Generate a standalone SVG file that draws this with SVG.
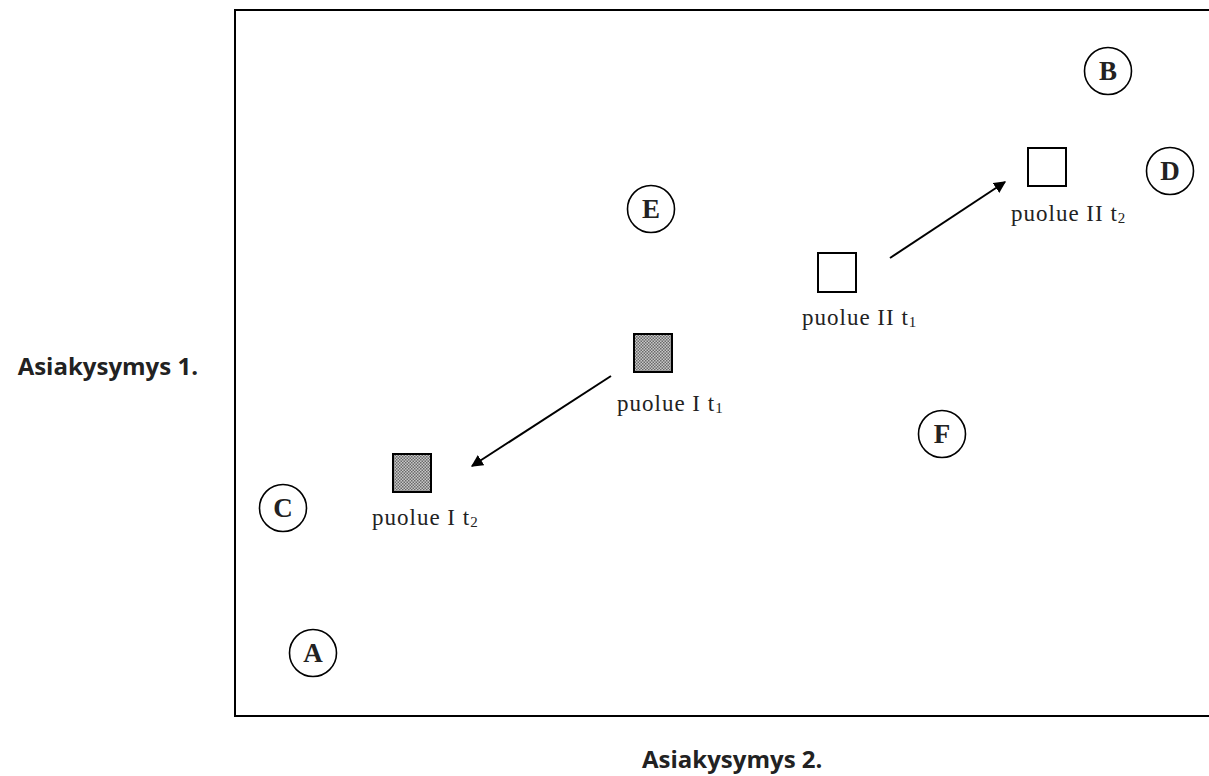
<svg xmlns="http://www.w3.org/2000/svg" width="1209" height="776" viewBox="0 0 1209 776">
<style>
.frame{fill:none;stroke:#000;stroke-width:2}
.circ{fill:#fff;stroke:#000;stroke-width:1.6}
.let{font-family:"Liberation Serif",serif;font-weight:bold;font-size:27px;text-anchor:middle;fill:#222}
.sq{stroke:#000;stroke-width:2}
.lbl{font-family:"Liberation Serif",serif;font-size:23px;letter-spacing:1px;fill:#222}
.sub{font-size:15px}
.axis{font-family:"Open Sans","Liberation Sans",sans-serif;font-weight:bold;font-size:24px;fill:#222}
.conn{stroke:#000;stroke-width:2;fill:none;marker-end:url(#ah)}
</style>
<defs>
<marker id="ah" viewBox="0 0 10 10" refX="9" refY="5" markerWidth="6" markerHeight="6" markerUnits="strokeWidth" orient="auto">
<path d="M0,0 L10,5 L0,10 z" fill="#000"/>
</marker>
<pattern id="dots" width="3" height="3" patternUnits="userSpaceOnUse">
<rect width="3" height="3" fill="#c8c8c8"/>
<rect width="1.5" height="1.5" fill="#6a6a6a"/>
<rect x="1.5" y="1.5" width="1.5" height="1.5" fill="#6a6a6a"/>
</pattern>
</defs>
<rect width="1209" height="776" fill="#fff"/>
<rect class="frame" x="235" y="10" width="990" height="706"/>
<text class="axis" x="198" y="375" text-anchor="end">Asiakysymys 1.</text>
<text class="axis" x="642" y="768">Asiakysymys 2.</text>
<g id="A"><circle class="circ" cx="313" cy="653" r="23.5"/><text class="let" x="313" y="662">A</text></g>
<g id="B"><circle class="circ" cx="1108" cy="71" r="23.5"/><text class="let" x="1108" y="80">B</text></g>
<g id="C"><circle class="circ" cx="283" cy="508" r="23.5"/><text class="let" x="283" y="517">C</text></g>
<g id="D"><circle class="circ" cx="1170" cy="171" r="23.5"/><text class="let" x="1170" y="180">D</text></g>
<g id="E"><circle class="circ" cx="651" cy="209" r="23.5"/><text class="let" x="651" y="218">E</text></g>
<g id="F"><circle class="circ" cx="942" cy="434" r="23.5"/><text class="let" x="942" y="443">F</text></g>
<g id="p1t1"><rect class="sq" x="634" y="334" width="38" height="38" fill="url(#dots)"/><text class="lbl" x="617" y="411">puolue I t<tspan class="sub" dy="2">1</tspan></text></g>
<g id="p1t2"><rect class="sq" x="393" y="454" width="38" height="38" fill="url(#dots)"/><text class="lbl" x="372" y="525">puolue I t<tspan class="sub" dy="2">2</tspan></text></g>
<g id="p2t1"><rect class="sq" x="818" y="253" width="38" height="39" fill="#fff"/><text class="lbl" x="802" y="325">puolue II t<tspan class="sub" dy="2">1</tspan></text></g>
<g id="p2t2"><rect class="sq" x="1028" y="148" width="38" height="38" fill="#fff"/><text class="lbl" x="1011" y="221">puolue II t<tspan class="sub" dy="2">2</tspan></text></g>
<g id="connectors">
<line class="conn" x1="611" y1="376" x2="472" y2="466"/>
<line class="conn" x1="890" y1="258" x2="1005" y2="182"/>
</g>
</svg>
